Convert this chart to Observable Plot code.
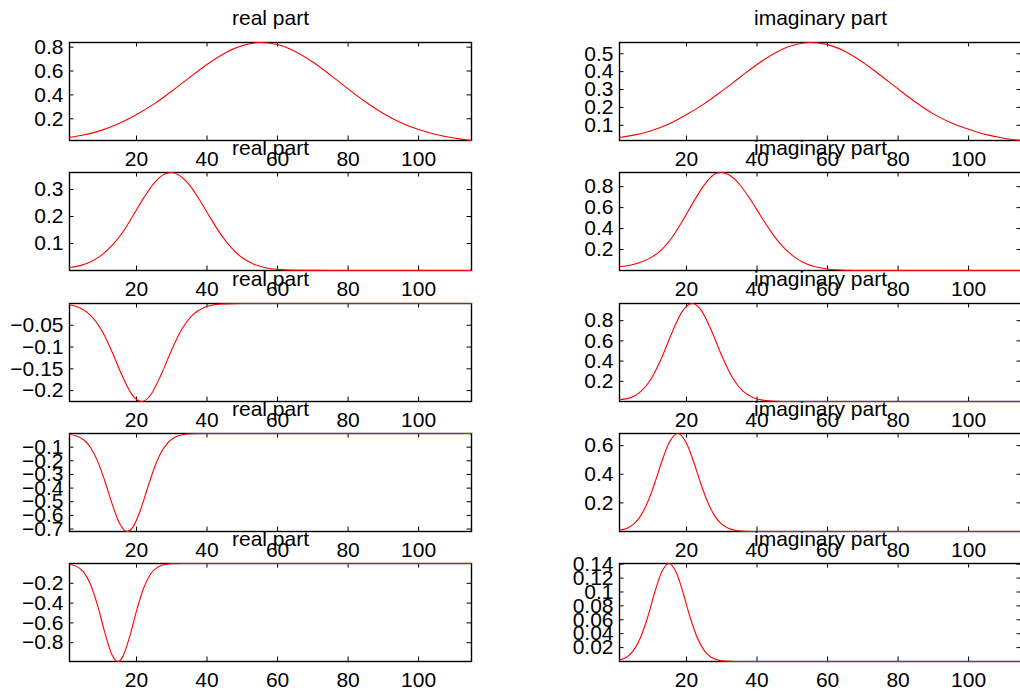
<!DOCTYPE html>
<html>
<head>
<meta charset="utf-8">
<script src="https://cdn.jsdelivr.net/npm/d3@7"></script>
<script src="https://cdn.jsdelivr.net/npm/@observablehq/plot@0.6"></script>
<style>
  html, body { margin: 0; padding: 0; background: #fff; }
  #chart { position: relative; width: 1020px; height: 697px; overflow: hidden; background: #fff; }
  #chart svg { position: absolute; }
</style>
</head>
<body>
<div id="chart"></div>
<script>
// ---- data ----
const xTicks = [20, 40, 60, 80, 100];
const titles = ["real part", "imaginary part"];

// row 1
const xRe1 = [1,5,10,15,20,25,30,35,40,45,50,55,60,65,70,75,80,85,90,95,100,105,110,115];
const yRe1 = [0.044,0.064,0.103,0.160,0.236,0.325,0.431,0.545,0.655,0.749,0.813,0.839,0.822,0.764,0.675,0.566,0.451,0.341,0.245,0.167,0.110,0.068,0.039,0.018];
const xIm1 = [1,5,10,15,20,25,30,35,40,45,50,55,60,65,70,75,80,85,90,95,100,105,110,115];
const yIm1 = [0.032,0.045,0.070,0.107,0.160,0.220,0.291,0.366,0.440,0.503,0.546,0.563,0.551,0.513,0.453,0.380,0.303,0.229,0.164,0.114,0.078,0.048,0.028,0.015];
// row 2
const xRe2 = [1,4,7,10,13,16,19,22,25,28,29.8,32,35,38,41,44,47,50,53,56,60,65,70,80,95,115];
const yRe2 = [0.011,0.018,0.032,0.056,0.092,0.140,0.203,0.268,0.324,0.357,0.363,0.354,0.317,0.259,0.194,0.132,0.083,0.047,0.025,0.012,0.004,0.001,0.0003,0,0,0];
const xIm2 = [1,4,7,10,13,16,19,22,25,28,29.7,32,35,38,41,44,47,50,53,56,60,65,70,80,95,115];
const yIm2 = [0.036,0.050,0.078,0.125,0.200,0.320,0.480,0.655,0.815,0.920,0.935,0.913,0.823,0.684,0.523,0.369,0.240,0.144,0.079,0.040,0.0145,0.003,0.0006,0,0,0];
// row 3
const xRe3 = [1,4,7,10,13,16,19,21.4,24,27,30,33,36,39,42,45,50,55,65,75,85,95,105,115];
const yRe3 = [-0.003,-0.0102,-0.0271,-0.0597,-0.1095,-0.167,-0.212,-0.225,-0.210,-0.163,-0.106,-0.057,-0.0256,-0.0095,-0.003,-0.0008,-0.0001,0,0,0,0,0,0,0];
const xIm3 = [1,4,7,10,13,16,19,21.6,24,27,30,33,36,39,42,45,50,55,65,75,85,95,105,115];
const yIm3 = [0.018,0.036,0.097,0.226,0.436,0.691,0.902,0.970,0.912,0.708,0.452,0.238,0.103,0.037,0.011,0.003,0.0002,0,0,0,0,0,0,0];
// row 4
const xRe4 = [1,3,5,7,9,11,13,15,17.4,19,21,23,25,27,29,31,33,36,40,50,65,80,95,115];
const yRe4 = [-0.005,-0.018,-0.046,-0.104,-0.204,-0.346,-0.508,-0.648,-0.718,-0.686,-0.570,-0.410,-0.256,-0.138,-0.065,-0.026,-0.0094,-0.0015,0,0,0,0,0,0];
const xIm4 = [1,3,5,7,9,11,13,15,17.5,20,22,24,26,28,30,32,34,37,40,50,65,80,95,115];
const yIm4 = [0.010,0.021,0.051,0.109,0.206,0.339,0.489,0.617,0.685,0.617,0.489,0.339,0.206,0.109,0.051,0.021,0.0073,0.0012,0,0,0,0,0,0];
// row 5
const xRe5 = [1,3,5,7,9,11,13,14.7,16,18,20,22,24,26,28,30,33,40,50,65,80,95,105,115];
const yRe5 = [-0.008,-0.029,-0.087,-0.214,-0.428,-0.695,-0.919,-0.990,-0.948,-0.747,-0.479,-0.250,-0.106,-0.037,-0.010,-0.002,0,0,0,0,0,0,0,0];
const xIm5 = [1,3,5,7,9,11,13,15,17,19,21,23,25,27,29,31,34,40,50,65,80,95,105,115];
const yIm5 = [0.002,0.0062,0.016,0.035,0.064,0.0996,0.129,0.141,0.129,0.0996,0.064,0.035,0.016,0.0062,0.002,0.0005,0,0,0,0,0,0,0,0];

// y tick labels
const yTicksRe1 = [0.2,0.4,0.6,0.8];
const yTicksIm1 = [0.1,0.2,0.3,0.4,0.5];
const yTicksRe2 = [0.1,0.2,0.3];
const yTicksIm2 = [0.2,0.4,0.6,0.8];
const yTicksRe3 = [-0.2,-0.15,-0.1,-0.05];
const yTicksIm3 = [0.2,0.4,0.6,0.8];
const yTicksRe4 = [-0.7,-0.6,-0.5,-0.4,-0.3,-0.2,-0.1];
const yTicksIm4 = [0.2,0.4,0.6];
const yTicksRe5 = [-0.8,-0.6,-0.4,-0.2];
const yTicksIm5 = [0.02,0.04,0.06,0.08,0.1,0.12,0.14];

const panels = [
  [xRe1, yRe1, yTicksRe1, xIm1, yIm1, yTicksIm1],
  [xRe2, yRe2, yTicksRe2, xIm2, yIm2, yTicksIm2],
  [xRe3, yRe3, yTicksRe3, xIm3, yIm3, yTicksIm3],
  [xRe4, yRe4, yTicksRe4, xIm4, yIm4, yTicksIm4],
  [xRe5, yRe5, yTicksRe5, xIm5, yIm5, yTicksIm5]
];

// ---- layout ----
const frameW = 402, frameH = 98;
const mL = 69, mT = 42, mB = 40, mR = 0;
const rowTop0 = 42, rowStep = 130.3;
const colLeft = [0, 550];
const tickLen = 4.5;
const fmt = d => String(d).replace("-", "\u2212");

const chart = document.getElementById("chart");

function panel(xs, ys, yT, title, col, row) {
  const data = xs.map((x, i) => ({x, y: ys[i]}));
  const ext = d3.extent(ys);
  const svg = Plot.plot({
    width: mL + frameW + mR,
    height: mT + frameH + mB,
    marginLeft: mL, marginRight: mR, marginTop: mT, marginBottom: mB,
    style: {background: "transparent", overflow: "visible", fontSize: "21px",
            fontFamily: "'Liberation Sans', Arial, Helvetica, sans-serif", color: "#000"},
    x: {domain: [1, 115], ticks: xTicks, tickSize: 0, tickPadding: 11, label: null, tickFormat: fmt},
    y: {domain: ext, ticks: yT, tickSize: 0, tickPadding: 6, label: null, tickFormat: fmt},
    marks: [
      Plot.frame({stroke: "#000", strokeWidth: 1.4}),
      Plot.tickX(xTicks, {x: d => d, insetBottom: frameH - tickLen, stroke: "#000"}),
      Plot.tickX(xTicks, {x: d => d, insetTop: frameH - tickLen, stroke: "#000"}),
      Plot.tickY(yT, {y: d => d, insetRight: frameW - tickLen, stroke: "#000"}),
      Plot.tickY(yT, {y: d => d, insetLeft: frameW - tickLen, stroke: "#000"}),
      Plot.line(data, {x: "x", y: "y", stroke: "#ff0000", strokeWidth: 1.1, curve: "monotone-x"}),
      Plot.text([title], {text: d => d, frameAnchor: "top", dy: -24, lineAnchor: "middle", fontSize: 21, fill: "#000"})
    ]
  });
  svg.style.left = colLeft[col] + "px";
  svg.style.top = (rowTop0 + row * rowStep - mT) + "px";
  chart.appendChild(svg);
}

panels.forEach((p, r) => {
  panel(p[0], p[1], p[2], titles[0], 0, r);
  panel(p[3], p[4], p[5], titles[1], 1, r);
});
</script>
</body>
</html>
